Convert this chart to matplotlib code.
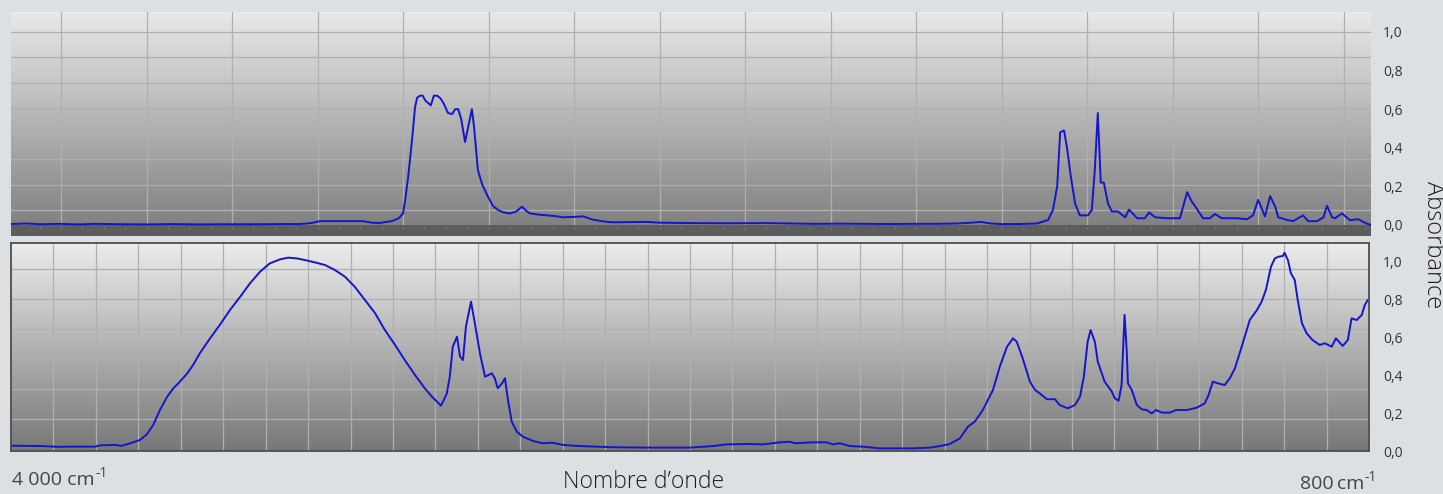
import numpy as np
import matplotlib
matplotlib.use("Agg")
import matplotlib.pyplot as plt
from matplotlib.colors import LinearSegmentedColormap

# ---- Upper spectrum: wavenumber (cm-1) and absorbance ----
top_wavenumber = [
    3917, 3880, 3850, 3802, 3760, 3720, 3662, 3600, 3540, 3475, 3420, 3335,
    3280, 3241, 3215, 3194, 3150, 3094, 3073, 3055, 3042, 3026, 3010, 3000,
    2995, 2988, 2979, 2972, 2967, 2960, 2954, 2948, 2935, 2928, 2920, 2912,
    2905, 2895, 2885, 2878, 2871, 2864, 2855, 2839, 2834, 2825, 2815, 2801,
    2790, 2778, 2765, 2750, 2735, 2722, 2710, 2703, 2680, 2663, 2640, 2626,
    2600, 2579, 2556, 2530, 2509, 2429, 2400, 2322, 2250, 2149, 2100, 2041,
    1980, 1924, 1860, 1807, 1750, 1704, 1670, 1650, 1625, 1604, 1560, 1517,
    1491, 1480, 1470, 1463, 1454, 1447, 1438, 1428, 1417, 1398, 1389, 1382,
    1375, 1368, 1361, 1351, 1342, 1328, 1311, 1302, 1283, 1265, 1255, 1241,
    1213, 1183, 1166, 1155, 1148, 1129, 1113, 1101, 1085, 1049, 1026, 1012,
    1000, 984, 972, 960, 953, 932, 918, 895, 883, 862, 847, 839,
    827, 820, 804, 785, 766, 749, 736,
]
top_absorbance = [
    0.005, 0.008, 0.004, 0.006, 0.003, 0.006, 0.004, 0.003, 0.005, 0.003, 0.004, 0.004,
    0.005, 0.005, 0.010, 0.020, 0.020, 0.020, 0.012, 0.010, 0.015, 0.020, 0.035, 0.060,
    0.130, 0.250, 0.440, 0.610, 0.660, 0.670, 0.670, 0.645, 0.620, 0.670, 0.670, 0.655,
    0.630, 0.580, 0.575, 0.600, 0.600, 0.550, 0.430, 0.600, 0.510, 0.285, 0.210, 0.145,
    0.100, 0.078, 0.065, 0.060, 0.070, 0.095, 0.070, 0.060, 0.053, 0.050, 0.045, 0.040,
    0.042, 0.045, 0.028, 0.018, 0.014, 0.016, 0.012, 0.010, 0.009, 0.010, 0.008, 0.006,
    0.007, 0.006, 0.005, 0.006, 0.006, 0.008, 0.012, 0.016, 0.008, 0.005, 0.005, 0.008,
    0.026, 0.078, 0.200, 0.480, 0.490, 0.400, 0.250, 0.110, 0.050, 0.050, 0.078, 0.285,
    0.580, 0.220, 0.220, 0.110, 0.070, 0.070, 0.040, 0.080, 0.035, 0.035, 0.065, 0.040,
    0.035, 0.035, 0.170, 0.120, 0.100, 0.035, 0.035, 0.057, 0.035, 0.035, 0.030, 0.050,
    0.130, 0.045, 0.150, 0.095, 0.040, 0.026, 0.020, 0.050, 0.020, 0.020, 0.040, 0.100,
    0.040, 0.035, 0.060, 0.025, 0.030, 0.010, 0.000,
]

# ---- Lower spectrum: wavenumber (cm-1) and absorbance ----
bottom_wavenumber = [
    4000, 3960, 3925, 3890, 3861, 3830, 3802, 3790, 3755, 3740, 3731, 3720,
    3696, 3680, 3665, 3649, 3632, 3618, 3602, 3585, 3571, 3555, 3531, 3508,
    3484, 3460, 3437, 3413, 3390, 3366, 3347, 3326, 3307, 3284, 3260, 3237,
    3213, 3190, 3166, 3142, 3119, 3095, 3072, 3048, 3025, 3008, 2996, 2987,
    2980, 2973, 2966, 2959, 2949, 2942, 2935, 2928, 2916, 2907, 2895, 2883,
    2867, 2860, 2853, 2843, 2836, 2829, 2820, 2808, 2794, 2770, 2747, 2725,
    2699, 2659, 2582, 2502, 2400, 2346, 2313, 2266, 2228, 2188, 2165, 2153,
    2111, 2078, 2063, 2047, 2023, 1993, 1953, 1913, 1875, 1835, 1811, 1788,
    1764, 1745, 1729, 1710, 1686, 1670, 1653, 1639, 1630, 1616, 1599, 1587,
    1576, 1559, 1540, 1529, 1510, 1493, 1481, 1472, 1463, 1456, 1446, 1439,
    1423, 1406, 1399, 1390, 1383, 1376, 1371, 1368, 1359, 1347, 1335, 1324,
    1312, 1302, 1288, 1269, 1255, 1229, 1206, 1187, 1178, 1168, 1156, 1140,
    1128, 1116, 1100, 1081, 1064, 1053, 1043, 1031, 1022, 1013, 1003, 999,
    991, 984, 975, 968, 958, 947, 933, 916, 904, 888, 878, 862,
    850, 841, 829, 817, 810, 803, 800,
]
bottom_absorbance = [
    0.028, 0.027, 0.026, 0.022, 0.023, 0.023, 0.023, 0.030, 0.032, 0.027, 0.033, 0.040,
    0.058, 0.088, 0.137, 0.217, 0.287, 0.330, 0.367, 0.410, 0.455, 0.517, 0.596, 0.667,
    0.746, 0.816, 0.887, 0.949, 0.993, 1.014, 1.023, 1.019, 1.010, 0.998, 0.984, 0.958,
    0.922, 0.869, 0.799, 0.729, 0.640, 0.561, 0.481, 0.402, 0.332, 0.287, 0.261, 0.240,
    0.270, 0.305, 0.393, 0.552, 0.605, 0.500, 0.481, 0.658, 0.790, 0.676, 0.517, 0.393,
    0.411, 0.385, 0.332, 0.358, 0.385, 0.270, 0.155, 0.102, 0.076, 0.053, 0.041, 0.044,
    0.032, 0.026, 0.020, 0.018, 0.018, 0.026, 0.035, 0.037, 0.035, 0.046, 0.049, 0.041,
    0.046, 0.046, 0.035, 0.041, 0.026, 0.023, 0.014, 0.014, 0.014, 0.018, 0.026, 0.037,
    0.067, 0.129, 0.155, 0.217, 0.323, 0.446, 0.552, 0.596, 0.578, 0.490, 0.367, 0.323,
    0.305, 0.274, 0.274, 0.243, 0.226, 0.243, 0.287, 0.393, 0.578, 0.640, 0.578, 0.472,
    0.367, 0.314, 0.279, 0.266, 0.349, 0.720, 0.534, 0.358, 0.323, 0.243, 0.220, 0.217,
    0.199, 0.217, 0.203, 0.203, 0.217, 0.217, 0.229, 0.252, 0.296, 0.367, 0.358, 0.349,
    0.385, 0.437, 0.552, 0.693, 0.746, 0.790, 0.852, 0.975, 1.019, 1.028, 1.032, 1.049,
    1.010, 0.940, 0.905, 0.799, 0.676, 0.623, 0.587, 0.561, 0.570, 0.552, 0.596, 0.556,
    0.587, 0.702, 0.693, 0.720, 0.772, 0.799, 0.800,
]

ytick_values = [0.0, 0.2, 0.4, 0.6, 0.8, 1.0]
ytick_labels = ["0,0", "0,2", "0,4", "0,6", "0,8", "1,0"]
x_title = "Nombre d\u2019onde"
y_title = "Absorbance"
x_start_value = "4 000 cm"
x_end_value = "800\u2009cm"
unit_exponent = "-1"

plt.rcParams["font.family"] = ["Open Sans", "DejaVu Sans"]

W, H = 1443, 494
fig = plt.figure(figsize=(W / 100, H / 100), dpi=100)
fig.patch.set_facecolor("#dde0e3")

LINE_COLOR = "#1515cc"
GRID_COLOR = "#b0b0b0"
GRID_LW = 0.9
TEXT_COLOR = "#333333"
TITLE_COLOR = "#1e1e1e"


def px_axes(left, top, right, bottom):
    return fig.add_axes([left / W, 1 - bottom / H, (right - left) / W, (bottom - top) / H])


def gradient(ax, top_color, bottom_color):
    cmap = LinearSegmentedColormap.from_list("panel", [bottom_color, top_color])
    grad = np.linspace(0, 1, 256).reshape(-1, 1)
    ax.imshow(grad, cmap=cmap, origin="lower", extent=[0, 1, 0, 1],
              transform=ax.transAxes, aspect="auto", zorder=0, interpolation="bicubic")


def style_ticks(ax, pad):
    ax.yaxis.tick_right()
    ax.set_yticks(ytick_values)
    ax.set_yticklabels(ytick_labels)
    ax.tick_params(axis="y", length=0, pad=pad, labelsize=10, labelcolor=TEXT_COLOR)
    ax.set_xticks([])


# ---------------- upper panel ----------------
ax1 = px_axes(11, 12, 1371, 236)
gradient(ax1, "#e9e9e9", "#7c7c7c")
ax1.set_xlim(3917, 736)
ax1.set_ylim(-0.057, 1.1036)
for s in ax1.spines.values():
    s.set_visible(False)
# darker strip under the zero line
ax1.axhspan(-0.06, 0.0, color="#5d5d5d", zorder=1.5, lw=0)
for gy in 1.0 - 0.132 * np.arange(8):
    ax1.axhline(gy, color=GRID_COLOR, lw=GRID_LW, zorder=1)
ax1.axhline(0.57, color=GRID_COLOR, lw=0.7, alpha=0.5, zorder=1)
for gx in np.arange(3800, 799, -200):
    ax1.axvline(gx, color=GRID_COLOR, lw=GRID_LW, zorder=1)
# small graduation marks inside the strip
minor = np.arange(3850, 740, -50)
ax1.vlines(minor, -0.022, -0.012, color="#7a7a7a", lw=1.0, zorder=2)
ax1.plot(top_wavenumber, top_absorbance, color=LINE_COLOR, lw=1.4, zorder=3)
style_ticks(ax1, 8.6)

# ---------------- lower panel ----------------
ax2 = px_axes(11, 243, 1369, 451)
gradient(ax2, "#ececec", "#787878")
ax2.set_xlim(4000, 800)
ax2.set_ylim(0, 1.1005)
for s in ax2.spines.values():
    s.set_color("#4d4d4d")
    s.set_linewidth(1.3)
    s.set_zorder(4)
for gy in 0.963 - 0.1587 * np.arange(6):
    ax2.axhline(gy, color=GRID_COLOR, lw=GRID_LW, zorder=1)
ax2.axhline(0.55, color=GRID_COLOR, lw=0.7, alpha=0.5, zorder=1)
for gx in np.arange(3900, 899, -100):
    ax2.axvline(gx, color=GRID_COLOR, lw=GRID_LW, zorder=1)
ax2.plot(bottom_wavenumber, bottom_absorbance, color=LINE_COLOR, lw=1.4, zorder=3)
style_ticks(ax2, 10)

# ---------------- titles and range labels ----------------
fig.text(1433 / W, 1 - 245 / H, y_title, rotation=-90, ha="center", va="center",
         fontsize=17, color=TITLE_COLOR, fontweight="light")
fig.text(563 / W, 1 - 488 / H, x_title, ha="left", va="baseline",
         fontsize=16.5, color=TITLE_COLOR, fontweight="light")

start_txt = fig.text(12 / W, 1 - 485 / H, x_start_value, ha="left", va="baseline",
                     fontsize=14, color="#444444")
end_txt = fig.text(1364 / W, 1 - 489 / H, x_end_value, ha="right", va="baseline",
                   fontsize=14, color="#444444")

# unit exponents placed just after each "cm"
fig.canvas.draw()
renderer = fig.canvas.get_renderer()
for txt, base in ((start_txt, 485), (end_txt, 489)):
    bb = txt.get_window_extent(renderer)
    fig.text((bb.x1 + 0.5) / W, 1 - (base - 8) / H, unit_exponent, ha="left",
             va="baseline", fontsize=10, color="#444444")

fig.savefig("out.png", dpi=100, facecolor=fig.get_facecolor())
